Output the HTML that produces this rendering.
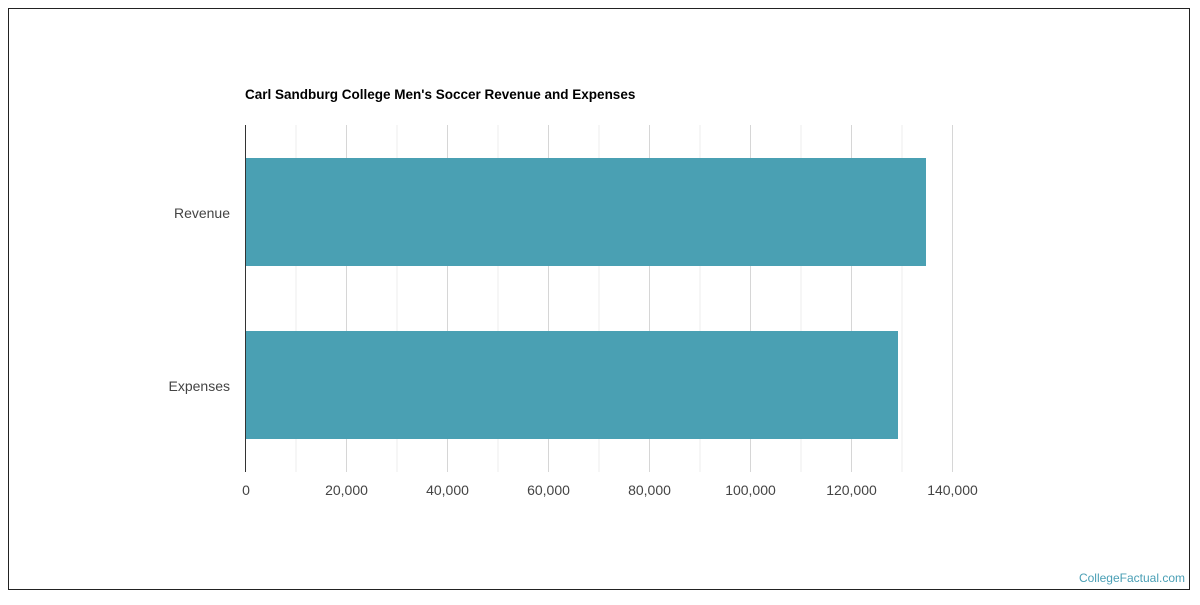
<!DOCTYPE html>
<html><head><style>
body{margin:0;background:#fff;}
</style></head><body>
<svg width="1200" height="600" xmlns="http://www.w3.org/2000/svg" font-family="Liberation Sans, sans-serif">
<rect x="8.5" y="8.5" width="1181" height="581" fill="#fff" stroke="#222" stroke-width="1"/>
<text x="245" y="99" font-size="13.5" font-weight="bold" fill="#000">Carl Sandburg College Men's Soccer Revenue and Expenses</text>
<g stroke-width="1">
<line x1="296" y1="125" x2="296" y2="472" stroke="#ececec"/>
<line x1="346.5" y1="125" x2="346.5" y2="472" stroke="#d6d6d6"/>
<line x1="397" y1="125" x2="397" y2="472" stroke="#ececec"/>
<line x1="447.5" y1="125" x2="447.5" y2="472" stroke="#d6d6d6"/>
<line x1="498" y1="125" x2="498" y2="472" stroke="#ececec"/>
<line x1="548.5" y1="125" x2="548.5" y2="472" stroke="#d6d6d6"/>
<line x1="599" y1="125" x2="599" y2="472" stroke="#ececec"/>
<line x1="649.5" y1="125" x2="649.5" y2="472" stroke="#d6d6d6"/>
<line x1="700" y1="125" x2="700" y2="472" stroke="#ececec"/>
<line x1="750.5" y1="125" x2="750.5" y2="472" stroke="#d6d6d6"/>
<line x1="801" y1="125" x2="801" y2="472" stroke="#ececec"/>
<line x1="851.5" y1="125" x2="851.5" y2="472" stroke="#d6d6d6"/>
<line x1="902" y1="125" x2="902" y2="472" stroke="#ececec"/>
<line x1="952.5" y1="125" x2="952.5" y2="472" stroke="#d6d6d6"/>
</g>
<rect x="245" y="158" width="681" height="108" fill="#4aa0b3"/>
<rect x="245" y="331" width="653" height="108" fill="#4aa0b3"/>
<line x1="245.5" y1="125" x2="245.5" y2="472" stroke="#333"/>
<g font-size="14" fill="#444" text-anchor="end">
<text x="230" y="218">Revenue</text>
<text x="230" y="391">Expenses</text>
</g>
<g font-size="14" fill="#444" text-anchor="middle">
<text x="246" y="495">0</text>
<text x="346.5" y="495">20,000</text>
<text x="447.5" y="495">40,000</text>
<text x="548.5" y="495">60,000</text>
<text x="649.5" y="495">80,000</text>
<text x="750.5" y="495">100,000</text>
<text x="851.5" y="495">120,000</text>
<text x="952.5" y="495">140,000</text>
</g>
<text x="1185" y="582" font-size="12" fill="#4a9fb5" text-anchor="end">CollegeFactual.com</text>
</svg>
</body></html>
